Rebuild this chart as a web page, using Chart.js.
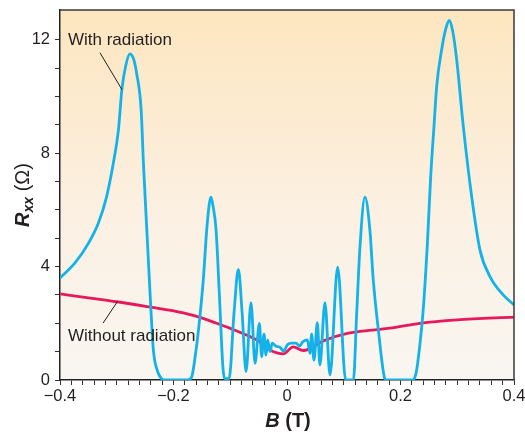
<!DOCTYPE html>
<html>
<head>
<meta charset="utf-8">
<script src="https://cdn.jsdelivr.net/npm/chart.js@4"></script>
<style>
  body { margin: 0; background: #fff; }
  canvas { display: block; }
</style>
</head>
<body>
<canvas id="grafico" width="525" height="433"></canvas>
<script>
// B (T) and Rxx (ohm)
const withB = [-0.4, -0.3736, -0.35, -0.3325, -0.3178, -0.306, -0.297, -0.291, -0.284, -0.2767, -0.27, -0.265, -0.257, -0.253, -0.247, -0.241, -0.2355, -0.228, -0.221, -0.215, -0.175, -0.168, -0.162, -0.156, -0.1475, -0.1415, -0.137, -0.134, -0.13, -0.125, -0.119, -0.113, -0.11, -0.102, -0.0934, -0.0857, -0.079, -0.0722, -0.0634, -0.0564, -0.0487, -0.0446, -0.0405, -0.037, -0.034, -0.03, -0.026, -0.02, -0.012, -0.006, 0.001, 0.008, 0.016, 0.022, 0.028, 0.036, 0.0405, 0.0434, 0.0476, 0.0534, 0.058, 0.0669, 0.0757, 0.0893, 0.1034, 0.117, 0.1228, 0.1286, 0.1374, 0.146, 0.152, 0.161, 0.1715, 0.175, 0.222, 0.228, 0.2344, 0.24, 0.2474, 0.2532, 0.259, 0.2637, 0.2725, 0.28, 0.286, 0.292, 0.299, 0.3107, 0.3254, 0.34, 0.3577, 0.381, 0.4];
const withR = [3.6, 4.13, 4.82, 5.53, 6.47, 7.65, 8.82, 10.24, 11.1, 11.5, 11.3, 10.82, 9.53, 7.65, 5.29, 2.94, 1.06, 0.3, 0.05, 0, 0, 0.1, 0.8, 1.76, 3.53, 5.29, 6.2, 6.45, 6.1, 5.3, 2.94, 0.47, 0.05, 0.05, 2.35, 3.9, 2.35, 0.3, 2.73, 0.59, 2.0, 0.82, 1.62, 0.88, 1.41, 1.0, 1.3, 1.2, 1.15, 1.02, 1.25, 1.3, 1.3, 1.2, 1.35, 1.41, 0.94, 1.62, 0.7, 2.02, 0.53, 2.73, 0.18, 3.98, 0, 0, 2.35, 4.7, 6.45, 5.3, 3.53, 1.76, 0.1, 0, 0, 0.3, 1.29, 2.47, 4.82, 7.18, 8.94, 10.35, 11.65, 12.4, 12.68, 12.3, 11.3, 8.94, 6.47, 4.59, 3.65, 3.0, 2.65];

const withoutB = [-0.4, -0.35, -0.3, -0.25, -0.194, -0.155, -0.124, -0.1, -0.065, -0.0506, -0.03, -0.0065, 0.011, 0.0287, 0.064, 0.108, 0.15, 0.181, 0.234, 0.3, 0.4];
const withoutR = [3.04, 2.9, 2.76, 2.6, 2.41, 2.22, 2.0, 1.82, 1.53, 1.38, 1.06, 0.92, 1.17, 1.04, 1.38, 1.65, 1.76, 1.83, 2.0, 2.12, 2.22];

const xTickValues = [-0.4, -0.2, 0, 0.2, 0.4];
const xTickLabels = ['\u22120.4', '\u22120.2', '0', '0.2', '0.4'];
const yTickValues = [0, 4, 8, 12];
const yTickLabels = ['0', '4', '8', '12'];

const fonte = "'Liberation Sans', Arial, sans-serif";
const corTexto = '#231f20';

function pares(xs, ys) {
  return xs.map((x, i) => ({ x: x, y: ys[i] }));
}

function rotulo(valores, rotulos, v) {
  const i = valores.findIndex(t => Math.abs(t - v) < 1e-6);
  return i >= 0 ? rotulos[i] : '';
}

const fundo = {
  id: 'fundo',
  beforeDraw(chart) {
    const { ctx, chartArea: a } = chart;
    const g = ctx.createLinearGradient(0, a.top, 0, a.bottom);
    g.addColorStop(0, '#fde6bf');
    g.addColorStop(0.55, '#fbf0e2');
    g.addColorStop(1, '#f9f6f1');
    ctx.save();
    ctx.fillStyle = g;
    ctx.fillRect(a.left, a.top, a.right - a.left, a.bottom - a.top);
    ctx.restore();
  }
};

const textos = {
  id: 'textos',
  afterDraw(chart) {
    const { ctx, chartArea: a } = chart;
    const sx = chart.scales.x, sy = chart.scales.y;
    const px = v => sx.getPixelForValue(v);
    const py = v => sy.getPixelForValue(v);
    ctx.save();
    // frame top and right
    ctx.strokeStyle = '#3a3a3a';
    ctx.lineWidth = 1.5;
    ctx.beginPath();
    ctx.moveTo(a.left, a.top);
    ctx.lineTo(a.right, a.top);
    ctx.lineTo(a.right, a.bottom);
    ctx.stroke();

    // annotations
    ctx.fillStyle = corTexto;
    ctx.strokeStyle = corTexto;
    ctx.lineWidth = 1;
    ctx.font = '17px ' + fonte;
    ctx.textBaseline = 'alphabetic';
    ctx.textAlign = 'left';
    ctx.fillText('With radiation', px(-0.386), py(11.81));
    ctx.fillText('Without radiation', px(-0.386), py(1.38));
    ctx.beginPath();
    ctx.moveTo(px(-0.3295), py(11.54));
    ctx.lineTo(px(-0.2907), py(10.24));
    ctx.moveTo(px(-0.324), py(2.01));
    ctx.lineTo(px(-0.2987), py(2.77));
    ctx.stroke();

    // x title: B (T)
    ctx.textBaseline = 'alphabetic';
    const b1 = 'italic bold 20px ' + fonte, b2 = 'bold 20px ' + fonte;
    ctx.font = b1; const wB = ctx.measureText('B').width;
    ctx.font = b2; const wT = ctx.measureText(' (T)').width;
    let x0 = (a.left + a.right) / 2 - (wB + wT) / 2 + 1;
    ctx.font = b1; ctx.fillText('B', x0, 427);
    ctx.font = b2; ctx.fillText(' (T)', x0 + wB, 427);

    // y title: Rxx (Ω)
    ctx.translate(29, 195);
    ctx.rotate(-Math.PI / 2);
    const r1 = 'italic bold 20px ' + fonte, r2 = 'italic bold 14px ' + fonte, r3 = '20px ' + fonte;
    ctx.font = r1; const wR = ctx.measureText('R').width;
    ctx.font = r2; const wX = ctx.measureText('xx').width;
    ctx.font = r3; const wO = ctx.measureText(' (\u03A9)').width;
    let t0 = -(wR + wX + wO) / 2;
    ctx.font = r1; ctx.fillText('R', t0, 0);
    ctx.font = r2; ctx.fillText('xx', t0 + wR, 4);
    ctx.font = r3; ctx.fillText(' (\u03A9)', t0 + wR + wX, 0);
    ctx.restore();
  }
};

new Chart(document.getElementById('grafico'), {
  type: 'line',
  data: {
    datasets: [
      {
        label: 'With radiation',
        data: pares(withB, withR),
        borderColor: '#13b2e8',
        borderWidth: 2.8,
        pointRadius: 0,
        cubicInterpolationMode: 'monotone',
        fill: false
      },
      {
        label: 'Without radiation',
        data: pares(withoutB, withoutR),
        borderColor: '#e8185c',
        borderWidth: 2.8,
        pointRadius: 0,
        cubicInterpolationMode: 'monotone',
        fill: false
      }
    ]
  },
  options: {
    responsive: false,
    animation: false,
    devicePixelRatio: 1,
    layout: { padding: { top: 10, right: 11, left: 0, bottom: 0 } },
    plugins: {
      legend: { display: false },
      tooltip: { enabled: false }
    },
    scales: {
      x: {
        type: 'linear',
        min: -0.4,
        max: 0.4,
        afterBuildTicks(scale) {
          const t = [];
          for (let k = -20; k <= 20; k++) t.push({ value: k / 50 });
          scale.ticks = t;
        },
        afterFit(scale) {
          scale.height = 53;
          scale.paddingLeft = 0;
          scale.paddingRight = 0;
        },
        grid: { display: true, drawOnChartArea: false, tickLength: 5, tickColor: '#333', tickWidth: 1 },
        border: { display: true, color: '#222', width: 1.5 },
        ticks: {
          autoSkip: false,
          maxRotation: 0,
          padding: 2,
          color: corTexto,
          font: { family: fonte, size: 16.5 },
          callback: v => rotulo(xTickValues, xTickLabels, v)
        }
      },
      y: {
        type: 'linear',
        min: 0,
        max: 13.05,
        afterBuildTicks(scale) {
          const t = [];
          for (let k = 0; k <= 12; k++) t.push({ value: k });
          scale.ticks = t;
        },
        afterFit(scale) {
          scale.width = 60;
          scale.paddingTop = 0;
          scale.paddingBottom = 0;
        },
        grid: { display: true, drawOnChartArea: false, tickLength: 5, tickColor: '#333', tickWidth: 1 },
        border: { display: true, color: '#222', width: 1.5 },
        ticks: {
          autoSkip: false,
          padding: 5,
          color: corTexto,
          font: { family: fonte, size: 16.5 },
          callback: v => rotulo(yTickValues, yTickLabels, v)
        }
      }
    }
  },
  plugins: [fundo, textos]
});
</script>
</body>
</html>
